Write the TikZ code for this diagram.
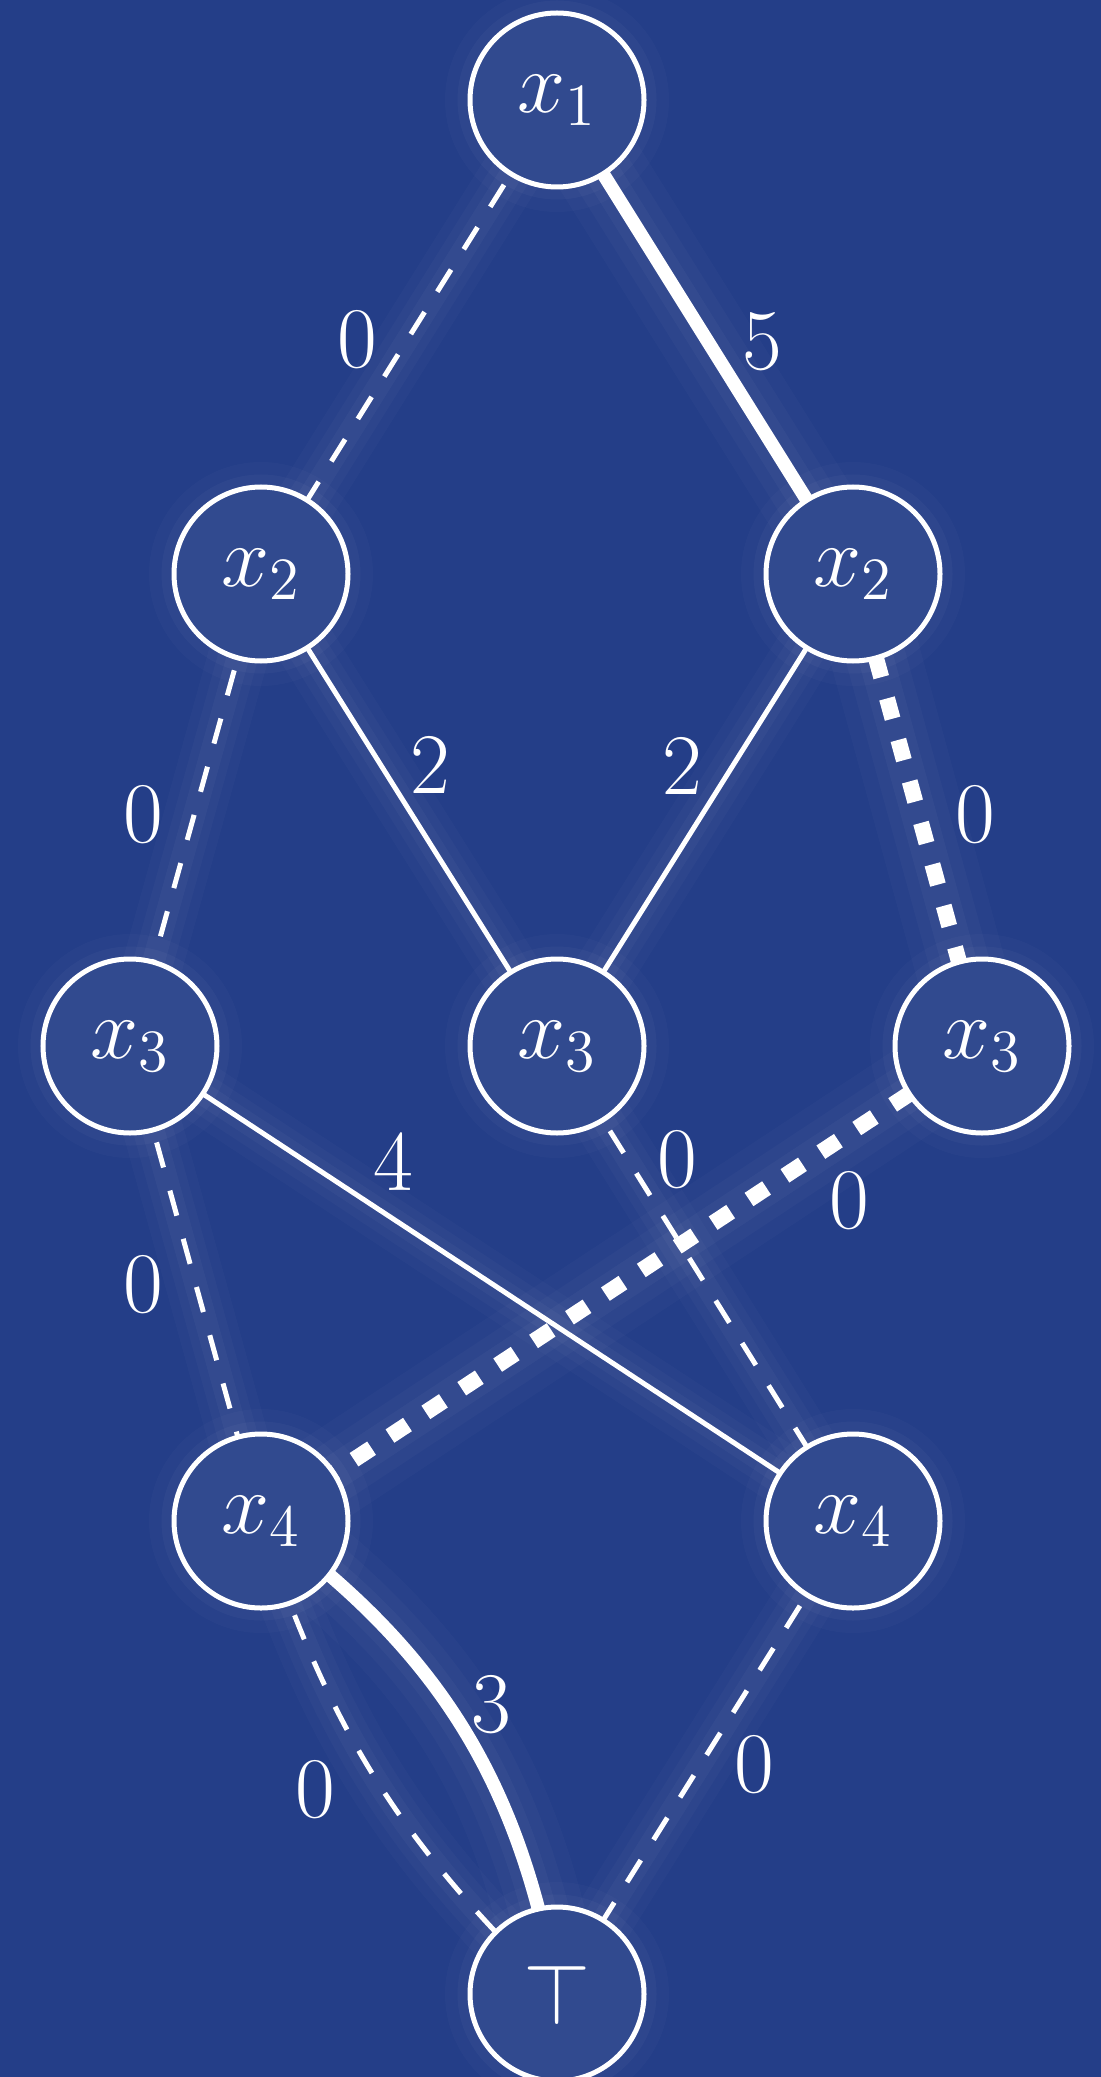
\documentclass[tikz,border=0pt]{standalone}
\definecolor{bg}{RGB}{36,62,136}
\pgfdeclarelayer{bgl}
\pgfdeclarelayer{edges}
\pgfsetlayers{bgl,edges,main}
\tikzset{
  glow/.style={preaction={draw=white, opacity=0.02, line width=12pt, solid},
               preaction={draw=white, opacity=0.025, line width=8pt, solid},
               preaction={draw=white, opacity=0.03, line width=4.5pt, solid}},
  bigglow/.style={preaction={draw=white, opacity=0.02, line width=18pt, solid},
                  preaction={draw=white, opacity=0.025, line width=12pt, solid},
                  preaction={draw=white, opacity=0.03, line width=7pt, solid}},
  vnode/.style={circle, draw=white, line width=1pt, minimum size=34.8pt, inner sep=0pt,
                fill=bg!94!white, text=white, font=\fontsize{17.28}{20}\selectfont,
                preaction={draw=white, opacity=0.02, line width=10pt},
                preaction={draw=white, opacity=0.03, line width=5pt}},
  lab/.style={text=white, font=\fontsize{17.28}{20}\selectfont, inner sep=0pt},
  esolid/.style={draw=white, line width=1pt, glow},
  edash/.style={draw=white, line width=1pt, dash pattern=on 5.2pt off 4.8pt, glow},
  hsolid/.style={draw=white, line width=2.7pt, bigglow},
  hdash/.style={draw=white, line width=3.2pt, dash pattern=on 4.2pt off 4.4pt, bigglow},
}
\begin{document}
\begin{tikzpicture}[x=0.2pt,y=-0.2pt]
\useasboundingbox (0,0) rectangle (1101,2077);
\begin{pgfonlayer}{bgl}
\fill[bg] (0,0) rectangle (1101,2077);
\end{pgfonlayer}
\node[vnode] (x1) at (557,100) {$x_1$};
\node[vnode] (x2a) at (261,574) {$x_2$};
\node[vnode] (x2b) at (853,574) {$x_2$};
\node[vnode] (x3a) at (130,1046) {$x_3$};
\node[vnode] (x3b) at (557,1046) {$x_3$};
\node[vnode] (x3c) at (982,1046) {$x_3$};
\node[vnode] (x4a) at (261,1521) {$x_4$};
\node[vnode] (x4b) at (853,1521) {$x_4$};
\node[vnode] (t) at (557,1994) {$\top$};
\node[lab] (l1) at (357,340) {0};
\node[lab] (l2) at (762,342) {5};
\node[lab] (l3) at (143,815) {0};
\node[lab] (l4) at (430,765) {2};
\node[lab] (l5) at (682,766) {2};
\node[lab] (l6) at (975,815) {0};
\node[lab] (l7) at (143,1285) {0};
\node[lab] (l8) at (393,1162) {4};
\node[lab] (l9) at (677,1160) {0};
\node[lab] (l10) at (849,1201) {0};
\node[lab] (l11) at (491,1705) {3};
\node[lab] (l12) at (315,1790) {0};
\node[lab] (l13) at (754,1765) {0};
\begin{pgfonlayer}{edges}
\draw[edash] (x1.center) -- (x2a.center);
\draw[hsolid] (x1.center) -- (x2b.center);
\draw[edash] (x2a.center) -- (x3a.center);
\draw[esolid] (x2a.center) -- (x3b.center);
\draw[esolid] (x2b.center) -- (x3b.center);
\draw[hdash] (x2b.center) -- (x3c.center);
\draw[edash] (x3a.center) -- (x4a.center);
\draw[esolid] (x3a.center) -- (x4b.center);
\draw[edash] (x3b.center) -- (x4b.center);
\draw[hdash] (x3c.center) -- (x4a.center);
\draw[hsolid] (x4a.center) to[bend left=22] (t.center);
\draw[edash] (x4a.center) to[bend right=14] (t.center);
\draw[edash] (x4b.center) -- (t.center);
\end{pgfonlayer}
\end{tikzpicture}
\end{document}
